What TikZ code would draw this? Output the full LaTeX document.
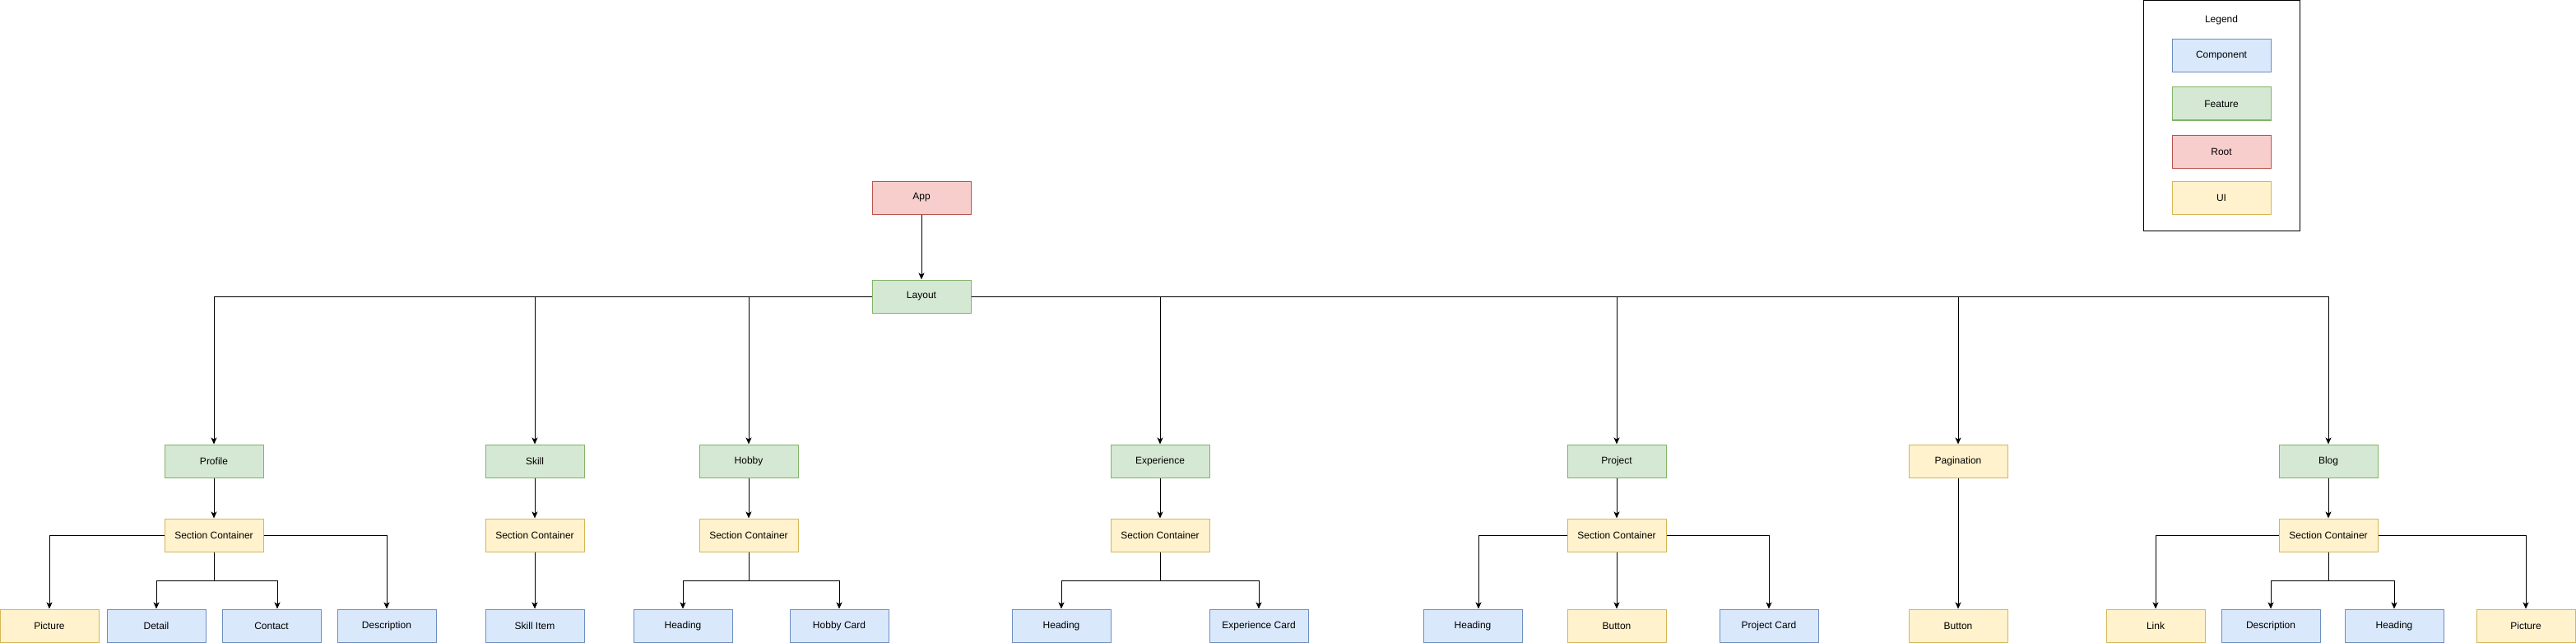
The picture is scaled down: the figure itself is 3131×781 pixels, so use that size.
\documentclass[tikz,border=0pt]{standalone}
\usepackage{fontspec}
\setmainfont{Liberation Sans}
\usepackage{xcolor}
\usepackage{tikz}
\usetikzlibrary{arrows.meta, positioning}
\definecolor{compfill}{HTML}{DAE8FC}
\definecolor{compline}{HTML}{6C8EBF}
\definecolor{featfill}{HTML}{D5E8D4}
\definecolor{featline}{HTML}{82B366}
\definecolor{rootfill}{HTML}{F8CECC}
\definecolor{rootline}{HTML}{B85450}
\definecolor{uifill}{HTML}{FFF2CC}
\definecolor{uiline}{HTML}{D6B656}
\def\drop{35}

\begin{document}
\begin{tikzpicture}[x=1pt,y=-1pt,line width=1pt,>={Stealth[length=8pt,width=7pt,inset=2pt]},font=\fontsize{12}{14}\selectfont]
    \tikzstyle{box}=[rectangle,minimum width=120pt,minimum height=40pt,inner sep=0pt]
    \tikzstyle{component}=[box,fill=compfill,draw=compline]
    \tikzstyle{feature}=[box,fill=featfill,draw=featline]
    \tikzstyle{root}=[box,fill=rootfill,draw=rootline]
    \tikzstyle{ui}=[box,fill=uifill,draw=uiline]

    \useasboundingbox (0,0) rectangle (3131,781);

    % Draw the root and the layout
    \node[root] (App) at (1120,240) {App};
    \node[feature] (Layout) at (1120,360) {Layout};
    \draw[->] (App) -- (Layout);

    % Draw the features with their section containers
    \foreach \name / \x in {Profile/260,Skill/650,Hobby/910,Experience/1410,Project/1965,Blog/2830}
    {
        \node[feature] (F-\name) at (\x,560) {\name};
        \node[ui] (S-\name) at (\x,650) {Section Container};
        \draw[->] (F-\name) -- (S-\name);
    }
    \node[ui] (F-Pagination) at (2380,560) {Pagination};

    % Connect the layout with every feature
    \foreach \name in {Profile,Skill,Hobby}
        \draw[->] (Layout.west) -| (F-\name.north);
    \foreach \name in {Experience,Project,Pagination,Blog}
        \draw[->] (Layout.east) -| (F-\name.north);

    % Draw the bottom layer
    \foreach \name / \x / \kind / \label in {
        ProfilePic/60/ui/Picture, Detail/190/component/Detail, Contact/330/component/Contact, ProfileDesc/470/component/Description,
        SkillItem/650/component/Skill Item,
        HobbyHead/830/component/Heading, HobbyCard/1020/component/Hobby Card,
        ExpHead/1290/component/Heading, ExpCard/1530/component/Experience Card,
        ProjHead/1790/component/Heading, ProjButton/1965/ui/Button, ProjCard/2150/component/Project Card,
        PageButton/2380/ui/Button,
        Link/2620/ui/Link, BlogDesc/2760/component/Description, BlogHead/2910/component/Heading, BlogPic/3070/ui/Picture}
        \node[\kind] (C-\name) at (\x,760) {\label};

    % Straight drops
    \draw[->] (S-Skill) -- (C-SkillItem);
    \draw[->] (S-Project) -- (C-ProjButton);
    \draw[->] (F-Pagination) -- (C-PageButton);

    % Branches from the sides of the containers
    \draw[->] (S-Profile.west) -| (C-ProfilePic.north);
    \draw[->] (S-Profile.east) -| (C-ProfileDesc.north);
    \draw[->] (S-Project.west) -| ([xshift=7pt]C-ProjHead.north);
    \draw[->] (S-Project.east) -| (C-ProjCard.north);
    \draw[->] (S-Blog.west) -| (C-Link.north);
    \draw[->] (S-Blog.east) -| (C-BlogPic.north);

    % Forked branches below the containers
    \foreach \src / \dest in {Profile/Detail,Hobby/HobbyHead,Hobby/HobbyCard,Experience/ExpHead,Experience/ExpCard,Blog/BlogDesc,Blog/BlogHead}
        \draw[->] (S-\src.south) -- ++(0,\drop) -| (C-\dest.north);
    \draw[->] (S-Profile.south) -- ++(0,\drop) -| ([xshift=7pt]C-Contact.north);

    % Legend
    \node[draw=black,inner sep=0pt,minimum width=190pt,minimum height=280pt] (Legend) at (2700.5,140.5) {};
    \node (L-title) at (2700,24) {Legend};
    \foreach \name / \kind / \y in {Component/component/68,Feature/feature/126,Root/root/184,UI/ui/240}
        \node[\kind] (L-\name) at (2700,\y) {\name};

\end{tikzpicture}
\end{document}
